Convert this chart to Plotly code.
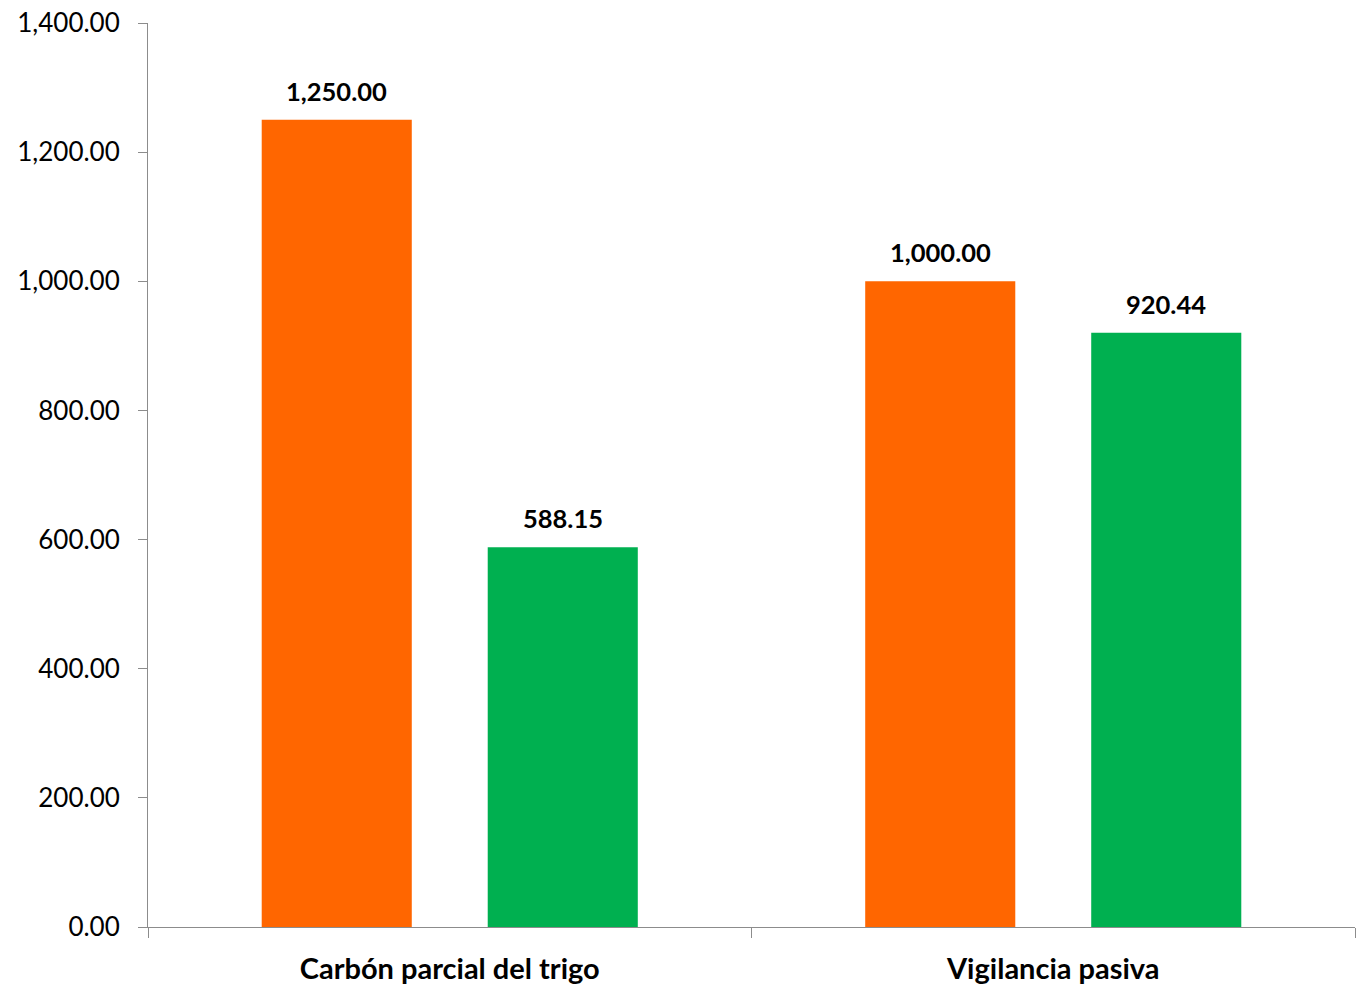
import plotly.graph_objects as go

categories = ["Carbón parcial del trigo", "Vigilancia pasiva"]
serie_a = [1250.00, 1000.00]
serie_b = [588.15, 920.44]
colors = ["#FF6600", "#00B050"]
y_ticks = [0, 200, 400, 600, 800, 1000, 1200, 1400]

BARGAP = 0.251
BARGROUPGAP = 0.336
FONT = "Lato, Carlito, Calibri, sans-serif"
AXIS_COLOR = "#8C8C8C"

fig = go.Figure()
for name, vals, col in [("A", serie_a, colors[0]), ("B", serie_b, colors[1])]:
    fig.add_trace(go.Bar(x=categories, y=vals, name=name, marker=dict(color=col, line=dict(width=0))))

# data labels above bars
half = (1 - BARGAP) / 4
for series, sign in [(serie_a, -1), (serie_b, 1)]:
    for i, v in enumerate(series):
        fig.add_annotation(
            x=i + sign * half, y=v, xref="x", yref="y",
            text=f"<b>{v:,.2f}</b>", showarrow=False,
            yanchor="bottom", yshift=12,
            font=dict(family=FONT, size=25.5, color="#000000"),
        )

fig.update_layout(
    width=1367, height=987,
    margin=dict(l=148, r=12, t=23, b=60),
    paper_bgcolor="white", plot_bgcolor="white",
    barmode="group", bargap=BARGAP, bargroupgap=BARGROUPGAP,
    showlegend=False,
    font=dict(family=FONT, size=24, color="#000000"),
)
fig.update_xaxes(
    type="category", tickson="boundaries", ticks="outside", ticklen=10,
    tickcolor=AXIS_COLOR, showline=True, linecolor=AXIS_COLOR, linewidth=1,
    showgrid=False, tickfont=dict(family=FONT, size=29, color="#000000"),
    tickvals=categories, ticktext=[f"<b>{c}</b>" for c in categories],
    ticklabelstandoff=16, automargin=False, ticklabeloverflow="allow",
)
fig.update_yaxes(
    range=[0, 1400], tickvals=y_ticks, tickformat=",.2f", ticks="outside", ticklen=9,
    tickcolor=AXIS_COLOR, showline=True, linecolor=AXIS_COLOR, linewidth=1,
    showgrid=False, zeroline=False, tickfont=dict(family=FONT, size=26, color="#000000"),
    ticklabelstandoff=13, automargin=False, ticklabeloverflow="allow",
)
fig.write_html(
    "out.html",
    config={"displayModeBar": False},
    post_script="document.body.style.margin='0px';document.body.style.overflow='hidden';",
)
